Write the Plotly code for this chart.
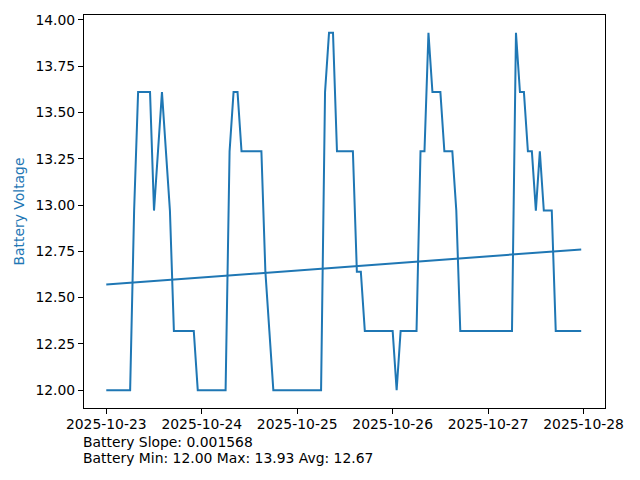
import plotly.graph_objects as go

times = [
    "2025-10-23 00:00", "2025-10-23 06:00", "2025-10-23 07:00", "2025-10-23 08:00",
    "2025-10-23 11:00", "2025-10-23 12:00", "2025-10-23 14:00", "2025-10-23 16:00",
    "2025-10-23 17:00", "2025-10-23 22:00", "2025-10-23 23:00",
    "2025-10-24 06:00", "2025-10-24 07:00", "2025-10-24 08:00", "2025-10-24 09:00",
    "2025-10-24 10:00", "2025-10-24 15:00", "2025-10-24 16:00", "2025-10-24 17:00",
    "2025-10-24 18:00",
    "2025-10-25 06:00", "2025-10-25 07:00", "2025-10-25 08:00", "2025-10-25 09:00",
    "2025-10-25 10:00", "2025-10-25 14:00", "2025-10-25 15:00", "2025-10-25 16:00",
    "2025-10-25 17:00",
    "2025-10-26 00:00", "2025-10-26 01:00", "2025-10-26 02:00", "2025-10-26 06:00",
    "2025-10-26 07:00", "2025-10-26 08:00", "2025-10-26 09:00", "2025-10-26 10:00",
    "2025-10-26 12:00", "2025-10-26 13:00", "2025-10-26 15:00", "2025-10-26 16:00",
    "2025-10-26 17:00",
    "2025-10-27 06:00", "2025-10-27 07:00", "2025-10-27 08:00", "2025-10-27 09:00",
    "2025-10-27 10:00", "2025-10-27 11:00", "2025-10-27 12:00", "2025-10-27 13:00",
    "2025-10-27 14:00", "2025-10-27 16:00", "2025-10-27 17:00", "2025-10-27 23:24",
]
voltage = [
    12.00, 12.00, 12.97, 13.61,
    13.61, 12.97, 13.61, 12.97,
    12.32, 12.32, 12.00,
    12.00, 13.29, 13.61, 13.61,
    13.29, 13.29, 12.64, 12.32,
    12.00,
    12.00, 13.61, 13.93, 13.93,
    13.29, 13.29, 12.64, 12.64,
    12.32,
    12.32, 12.00, 12.32, 12.32,
    13.29, 13.29, 13.93, 13.61,
    13.61, 13.29, 13.29, 12.97,
    12.32,
    12.32, 13.93, 13.61, 13.61,
    13.29, 13.29, 12.97, 13.29,
    12.97, 12.97, 12.32, 12.32,
]
trend_times = ["2025-10-23 00:00", "2025-10-27 23:24"]
trend_values = [12.57, 12.76]

slope_text = "Battery Slope: 0.001568"
stats_text = "Battery Min: 12.00 Max: 13.93 Avg: 12.67"
tick_dates = ["2025-10-23", "2025-10-24", "2025-10-25", "2025-10-26", "2025-10-27", "2025-10-28"]
y_ticks = [12.00, 12.25, 12.50, 12.75, 13.00, 13.25, 13.50, 13.75, 14.00]

blue = "#1f77b4"
font = dict(family="DejaVu Sans", size=13.9, color="black")

fig = go.Figure()
fig.add_trace(go.Scatter(x=times, y=voltage, mode="lines",
                         line=dict(color=blue, width=2), showlegend=False))
fig.add_trace(go.Scatter(x=trend_times, y=trend_values, mode="lines",
                         line=dict(color=blue, width=2), showlegend=False))

axis_common = dict(showline=True, linecolor="black", linewidth=1, mirror=True,
                   ticks="outside", ticklen=5, tickwidth=1, tickcolor="black",
                   showgrid=False, zeroline=False, tickfont=font, automargin=False)

fig.update_layout(
    width=640, height=480,
    margin=dict(l=76, r=43, t=7, b=80, autoexpand=False),
    plot_bgcolor="white", paper_bgcolor="white",
    font=font,
    xaxis=dict(range=["2025-10-22 18:24", "2025-10-28 05:23"],
               tickvals=tick_dates, ticktext=tick_dates, ticklabelstandoff=-2,
               **axis_common),
    yaxis=dict(range=[11.9035, 14.0265], tickvals=y_ticks,
               ticktext=[f"{v:.2f}" for v in y_ticks],
               title=dict(text="Battery Voltage", font=dict(family="DejaVu Sans", size=13.9, color=blue),
                          standoff=7),
               **axis_common),
    annotations=[
        dict(text=slope_text, xref="paper", yref="paper", x=0, y=-34 / 393, xshift=-3,
             xanchor="left", yanchor="middle", showarrow=False, font=font),
        dict(text=stats_text, xref="paper", yref="paper", x=0, y=-50 / 393, xshift=-3,
             xanchor="left", yanchor="middle", showarrow=False, font=font),
    ],
)

fig.write_html("out.html")
